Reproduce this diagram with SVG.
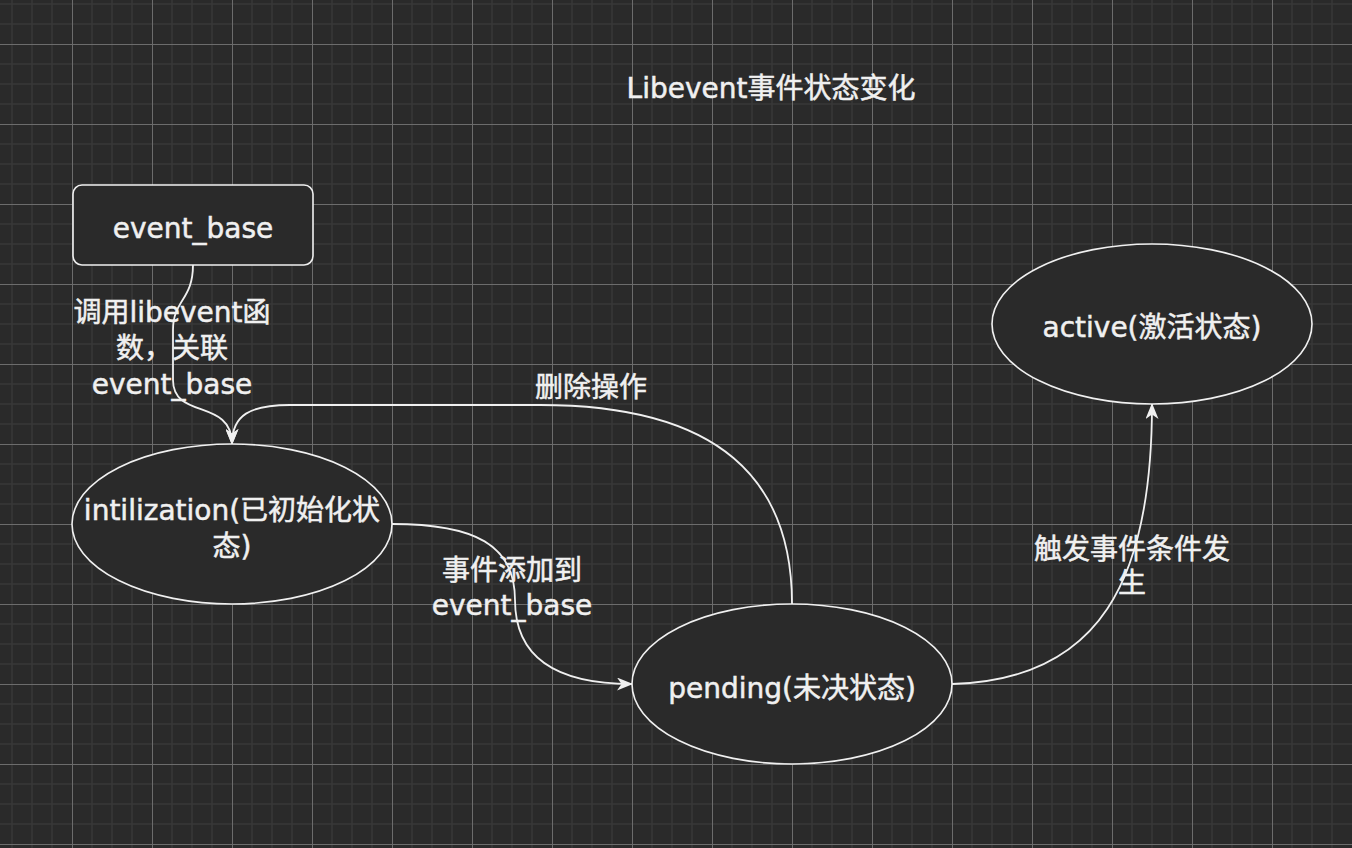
<svg xmlns="http://www.w3.org/2000/svg" width="1352" height="848" viewBox="0 0 1352 848">
<defs>
<pattern id="grid" patternUnits="userSpaceOnUse" x="72" y="44" width="80" height="80">
<rect width="80" height="80" fill="#2a2a2a"/>
<g fill="#373737">
<rect x="19.25" y="0" width="1.5" height="80"/>
<rect x="39.25" y="0" width="1.5" height="80"/>
<rect x="59.25" y="0" width="1.5" height="80"/>
<rect x="0" y="19.25" width="80" height="1.5"/>
<rect x="0" y="39.25" width="80" height="1.5"/>
<rect x="0" y="59.25" width="80" height="1.5"/>
</g>
<g fill="#6c6c6c">
<rect x="0" y="0" width="1" height="80"/>
<rect x="0" y="0" width="80" height="1"/>
</g>
</pattern>
<marker id="arrow" viewBox="0 0 16 13" refX="15" refY="6.5" markerWidth="16" markerHeight="13" markerUnits="userSpaceOnUse" orient="auto">
<path d="M0,0 L16,6.5 L0,13 L4.5,6.5 Z" fill="#f0f0f0"/>
</marker>
</defs>
<style>
text{font-family:"DejaVu Sans","Noto Sans CJK SC",sans-serif;font-size:28px;font-weight:normal;fill:#f0f0f0;stroke:#f0f0f0;stroke-width:0.5;text-anchor:middle}
.node{fill:#2a2a2a;stroke:#f0f0f0;stroke-width:1.6}
.edge{fill:none;stroke:#f0f0f0;stroke-width:1.8}
</style>
<rect x="0" y="0" width="1352" height="848" fill="url(#grid)"/>
<g id="title"><text x="771" y="98">Libevent事件状态变化</text></g>
<g id="connectors">
<path class="edge" d="M193,265 C193,300 173,300 173,330 L173,380 C173,420 232,398 232,444" marker-end="url(#arrow)"/>
<path class="edge" d="M392,524 C475,524 515,545 515,600 C515,660 560,684 632,684" marker-end="url(#arrow)"/>
<path class="edge" d="M792,604 C792,480 720,405 540,405 L290,405 C250,405 232,415 232,444" marker-end="url(#arrow)"/>
<path class="edge" d="M952,684 C1100,680 1152,580 1152,404" marker-end="url(#arrow)"/>
</g>
<g id="labels">
<text x="172" y="322">调用libevent函</text>
<text x="172" y="358">数，关联</text>
<text x="172" y="394">event_base</text>
<text x="591" y="397">删除操作</text>
<text x="512" y="580">事件添加到</text>
<text x="512" y="615">event_base</text>
<text x="1132" y="559">触发事件条件发</text>
<text x="1132" y="593">生</text>
</g>
<g id="event_base">
<rect class="node" x="73" y="185" width="240" height="80" rx="9"/>
<text x="193" y="238">event_base</text>
</g>
<g id="intilization">
<ellipse class="node" cx="232" cy="524" rx="160" ry="80"/>
<text x="232" y="520">intilization(已初始化状</text>
<text x="232" y="556">态)</text>
</g>
<g id="pending">
<ellipse class="node" cx="792" cy="684" rx="160" ry="80"/>
<text x="792" y="698">pending(未决状态)</text>
</g>
<g id="active">
<ellipse class="node" cx="1152" cy="324" rx="160" ry="80"/>
<text x="1152" y="337">active(激活状态)</text>
</g>
</svg>
